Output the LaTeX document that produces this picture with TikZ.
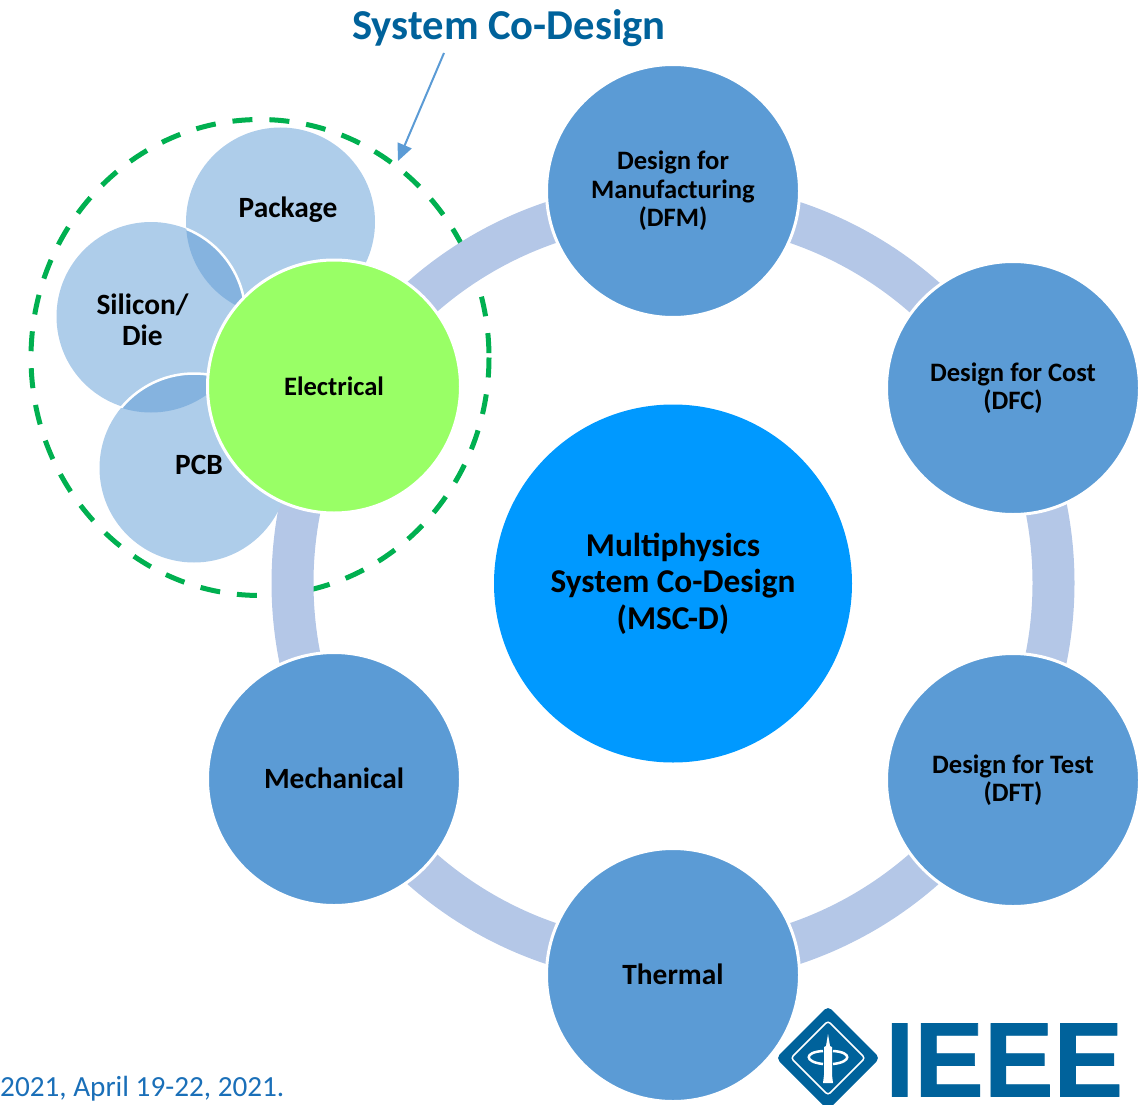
\documentclass[tikz,border=0pt]{standalone}
\usepackage{fontspec}
\setmainfont{Carlito}
\newfontfamily\ieeefont[FakeBold=0.6]{Liberation Sans}
\usetikzlibrary{arrows.meta}
\definecolor{ringc}{HTML}{B4C7E7}
\definecolor{bigc}{HTML}{5B9BD5}
\definecolor{midc}{HTML}{0099FF}
\definecolor{greenc}{HTML}{99FF66}
\definecolor{lightc}{HTML}{AECDEA}
\definecolor{lensc}{HTML}{85B3DF}
\definecolor{dashc}{HTML}{00B050}
\definecolor{ieeec}{HTML}{00629B}
\definecolor{datec}{HTML}{1A6FB8}
\tikzset{
  x=1pt,y=-1pt,
  ringnode/.style={circle,draw=white,line width=3pt,fill=bigc,minimum size=253pt,inner sep=0pt,align=center,font=\bfseries\fontsize{26.6}{28.5}\selectfont,text=black},
  greennode/.style={ringnode,fill=greenc},
  lightnode/.style={circle,fill=lightc,minimum size=189pt,inner sep=0pt},
  lightlabel/.style={align=center,inner sep=0pt,font=\bfseries\fontsize{29.4}{31}\selectfont,text=black},
}
\begin{document}
\begin{tikzpicture}
\useasboundingbox (0,0) rectangle (1148,1105);
% dashed group outline
\draw[dashc,line width=5pt,dash pattern=on 20pt off 17pt] (260,357.5) ellipse [x radius=229,y radius=238];
% ring
\draw[ringc,line width=42pt] (673,583) circle [radius=380.5];
% outer nodes
\node[ringnode] (dfm) at (673,191) {Design for\\Manufacturing\\(DFM)};
\node[ringnode] (dfc) at (1013,388) {Design for Cost\\(DFC)};
\node[ringnode] (dft) at (1013,780) {Design for Test\\(DFT)};
\node[ringnode] (thermal) at (673,975) {\raisebox{2pt}{\fontsize{29.4}{32}\selectfont Thermal}};
\node[ringnode] (mech) at (334,779) {\raisebox{2pt}{\fontsize{29.4}{32}\selectfont Mechanical}};
% centre
\node[circle,fill=midc,minimum size=358pt,inner sep=0pt,align=center,text=black,font=\bfseries\fontsize{33.3}{36.5}\selectfont] (msc) at (673,583.5) {Multiphysics\\System Co-Design\\(MSC-D)};
% light circles
\node[lightnode] (package) at (280.5,222) {};
\node[lightnode] (silicon) at (151,316.5) {};
\node[lightnode] (pcb) at (194,468) {};
% overlaps
\begin{scope}
  \clip (280.5,222) circle [radius=94.5];
  \fill[lensc] (151,316.5) circle [radius=94.5];
  \draw[white,line width=2.5pt] (151,316.5) circle [radius=94.5];
\end{scope}
\begin{scope}
  \clip (151,316.5) circle [radius=96];
  \fill[lensc] (194,468) circle [radius=94.5];
  \draw[white,line width=2.5pt] (194,468) circle [radius=94.5];
\end{scope}
\node[greennode] (elec) at (334,386.5) {Electrical};
\node[lightlabel] (packagelabel) at (288,210) {Package};
\node[lightlabel] (siliconlabel) at (142.5,320) {Silicon/\\Die};
\node[lightlabel] (pcblabel) at (199,465) {PCB};
% title
\node[inner sep=0pt,text=ieeec,font=\bfseries\fontsize{42.6}{48}\selectfont] (title) at (509,28) {System Co-Design};
\coordinate (arrowstart) at (444,53);
\coordinate (arrowend) at (398,161);
\draw[bigc,line width=2pt,-{Triangle[length=17pt,width=15pt]}] (arrowstart) -- (arrowend);
% date
\node[anchor=west,inner sep=0pt,text=datec,font=\fontsize{29.2}{32}\selectfont] (date) at (0,1089) {2021, April 19-22, 2021.};
% IEEE logo
\node[anchor=west,inner sep=0pt,text=ieeec,font=\ieeefont\bfseries\fontsize{106}{110}\selectfont,xscale=0.985,transform shape] (ieee) at (885,1060) {IEEE};
\fill[ieeec,rounded corners=5pt] (828,1006) -- (880,1058) -- (828,1110) -- (776,1058) -- cycle;
\draw[white,line width=1.5pt,rounded corners=3pt] (828,1021) -- (865,1058) -- (828,1095) -- (791,1058) -- cycle;
\fill[white] (828,1034) -- (830,1046) -- (832,1047) -- (832,1075) -- (833,1083) -- (823,1083) -- (824,1075) -- (824,1047) -- (826,1046) -- cycle;
\draw[white,line width=2.5pt] (823,1051) .. controls (804,1052) and (804,1062) .. (823,1064);
\draw[white,line width=2.5pt] (833,1051) .. controls (852,1052) and (852,1062) .. (833,1064);
\end{tikzpicture}
\end{document}
